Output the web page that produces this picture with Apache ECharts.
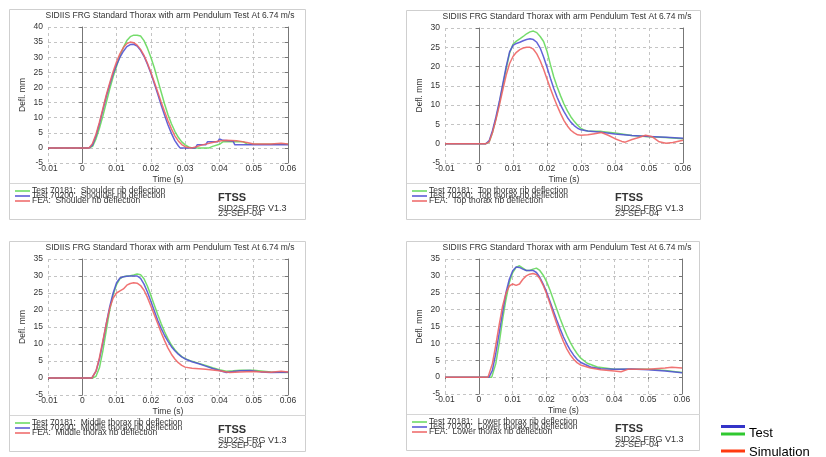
<!DOCTYPE html>
<html>
<head>
<meta charset="utf-8">
<script src="https://cdn.jsdelivr.net/npm/echarts@6/dist/echarts.min.js"></script>
<style>
  html, body { margin: 0; padding: 0; background: #fff; }
  #main { width: 826px; height: 457px; }
</style>
</head>
<body>
<div id="main"></div>
<script>
// axes
var timeMin = -0.01, timeMax = 0.06, timeStep = 0.01;
var deflRanges = [[-5, 40], [-5, 30], [-5, 35], [-5, 35]];
var deflStep = 5;

// texts
var panelTitle = 'SIDIIS FRG Standard Thorax with arm Pendulum Test At 6.74 m/s';
var ribNames = ['Shoulder rib deflection', 'Top thorax rib deflection', 'Middle thorax rib deflection', 'Lower thorax rib deflection'];
var runLabels = ['Test 70181:', 'Test 70200:', 'FEA:'];
var stampLines = ['FTSS', 'SID2S FRG V1.3', '23-SEP-04'];
var keyLabels = ['Test', 'Simulation'];

// shoulder rib (time s, deflection mm)
var shoulder70181 = [[-0.01,0],[0.002,0],[0.003,0.5],[0.004,3],[0.005,6.5],[0.006,10.5],[0.007,15],[0.008,19.5],[0.009,23.5],[0.010,27],[0.011,30.5],[0.012,33.3],[0.013,35.5],[0.014,36.8],[0.015,37.3],[0.016,37.3],[0.017,37],[0.018,35.5],[0.019,33],[0.020,30],[0.021,26.5],[0.022,22.5],[0.023,18.5],[0.024,14.5],[0.025,11],[0.026,8],[0.027,5.5],[0.028,3.5],[0.029,2],[0.030,1],[0.031,0.3],[0.032,0],[0.037,0],[0.038,0.5],[0.040,1.2],[0.041,2],[0.047,2],[0.048,1.3],[0.060,1.2]];
var shoulder70200 = [[-0.01,0],[0.002,0],[0.003,1],[0.004,4],[0.005,8],[0.006,12.5],[0.007,17],[0.008,21],[0.009,24.5],[0.010,27.5],[0.011,30],[0.012,32],[0.013,33.5],[0.014,34.2],[0.015,34.3],[0.016,33.7],[0.017,32.3],[0.018,30.3],[0.019,27.7],[0.020,24.7],[0.021,21.3],[0.022,17.8],[0.023,14.2],[0.024,10.8],[0.025,7.6],[0.026,4.8],[0.027,2.4],[0.028,0.7],[0.0285,0],[0.033,0],[0.0335,1],[0.036,1],[0.0365,2],[0.0395,2],[0.040,3],[0.041,2.5],[0.044,2.2],[0.0445,1],[0.060,1]];
var shoulderFEA = [[-0.01,0],[0.002,0],[0.003,1.5],[0.004,4.5],[0.005,8.5],[0.006,13],[0.007,17.5],[0.008,21.5],[0.009,25.3],[0.010,28.5],[0.011,31.2],[0.012,33.2],[0.013,34.5],[0.014,35],[0.015,34.8],[0.016,34],[0.017,32.6],[0.018,30.6],[0.019,28],[0.020,25],[0.021,21.8],[0.022,18.5],[0.023,15.2],[0.024,12],[0.025,9],[0.026,6.3],[0.027,4],[0.028,2.3],[0.029,1.1],[0.030,0.4],[0.031,0.1],[0.032,0],[0.033,0.3],[0.035,1],[0.038,1.8],[0.040,2.3],[0.042,2.5],[0.045,2.4],[0.048,1.8],[0.050,1.3],[0.055,1.3],[0.058,1.5],[0.060,1.3]];

// top thorax rib
var top70181 = [[-0.01,0],[0.002,0],[0.003,0.5],[0.004,3],[0.005,6.5],[0.006,10.5],[0.007,15],[0.008,19.5],[0.009,23.5],[0.010,25.8],[0.011,26.6],[0.012,27.2],[0.013,27.8],[0.014,28.5],[0.015,29],[0.016,29.2],[0.017,28.8],[0.018,27.8],[0.019,26.5],[0.020,24],[0.021,20.5],[0.022,17.3],[0.023,14.7],[0.024,12.4],[0.025,10.3],[0.026,8.5],[0.027,7],[0.028,5.8],[0.029,4.8],[0.030,4],[0.031,3.5],[0.032,3.3],[0.036,3.2],[0.040,2.8],[0.045,2.1],[0.050,1.8],[0.055,1.6],[0.060,1.3]];
var top70200 = [[-0.01,0],[0.002,0],[0.003,0.8],[0.004,3.5],[0.005,7],[0.006,11],[0.007,15.5],[0.008,20],[0.009,23.8],[0.010,25.5],[0.011,26],[0.012,26.3],[0.013,26.7],[0.014,27],[0.015,27.2],[0.016,27],[0.017,26.3],[0.018,24.8],[0.019,22.5],[0.020,19.8],[0.021,17],[0.022,14.3],[0.023,12],[0.024,10],[0.025,8.3],[0.026,6.8],[0.027,5.6],[0.028,4.7],[0.029,4],[0.030,3.6],[0.032,3.3],[0.036,3],[0.040,2.5],[0.045,2.1],[0.050,1.9],[0.055,1.7],[0.060,1.4]];
var topFEA = [[-0.01,0],[0.002,0],[0.003,0.5],[0.004,3],[0.005,6.3],[0.006,10],[0.007,14],[0.008,17.8],[0.009,20.8],[0.010,22.6],[0.011,23.7],[0.012,24.4],[0.013,24.8],[0.014,25],[0.015,25],[0.016,24.5],[0.017,23.3],[0.018,21.5],[0.019,19.3],[0.020,16.8],[0.021,14.3],[0.022,12],[0.023,9.8],[0.024,7.8],[0.025,6],[0.026,4.6],[0.027,3.5],[0.028,2.8],[0.029,2.3],[0.030,2.2],[0.032,2.3],[0.034,2.6],[0.036,2.9],[0.038,2.2],[0.040,1.3],[0.042,0.6],[0.043,0.4],[0.045,1.1],[0.047,1.6],[0.049,2.2],[0.051,1.8],[0.053,0.5],[0.055,0.1],[0.057,0.3],[0.060,0.9]];

// middle thorax rib
var middle70181 = [[-0.01,0],[0.003,0],[0.004,0.5],[0.005,3],[0.006,8],[0.007,14],[0.008,20],[0.009,24.5],[0.010,27.5],[0.011,29.2],[0.012,29.8],[0.013,30],[0.014,30.1],[0.015,30.3],[0.016,30.6],[0.017,30.4],[0.018,29.2],[0.019,27],[0.020,24.3],[0.021,21.5],[0.022,18.7],[0.023,16],[0.024,13.6],[0.025,11.5],[0.026,9.7],[0.027,8.3],[0.028,7.2],[0.029,6.3],[0.030,5.7],[0.032,4.9],[0.034,4.3],[0.036,3.7],[0.038,3],[0.040,2.4],[0.042,2],[0.044,2.1],[0.046,2.3],[0.050,2.3],[0.055,1.8],[0.060,1.6]];
var middle70200 = [[-0.01,0],[0.0028,0],[0.004,2],[0.005,5.5],[0.006,10.5],[0.007,16],[0.008,21],[0.009,25],[0.010,28],[0.011,29.4],[0.012,29.8],[0.013,29.9],[0.014,30],[0.015,30],[0.016,30],[0.017,29.3],[0.018,27.6],[0.019,25.3],[0.020,22.6],[0.021,19.8],[0.022,17],[0.023,14.6],[0.024,12.5],[0.025,10.8],[0.026,9.2],[0.027,8],[0.028,7],[0.029,6.2],[0.030,5.6],[0.032,4.8],[0.034,4.2],[0.036,3.5],[0.038,2.8],[0.040,2.2],[0.042,1.6],[0.044,1.9],[0.046,2.1],[0.049,2.2],[0.052,1.8],[0.055,1.6],[0.060,1.7]];
var middleFEA = [[-0.01,0],[0.0028,0],[0.004,2],[0.005,6],[0.006,11],[0.007,16],[0.008,20.5],[0.009,23.5],[0.010,25],[0.011,25.6],[0.012,26.2],[0.013,27.3],[0.014,27.8],[0.015,28],[0.016,27.9],[0.017,27.2],[0.018,25.8],[0.019,23.7],[0.020,21.2],[0.021,18.6],[0.022,16],[0.023,13.4],[0.024,11],[0.025,8.8],[0.026,7],[0.027,5.6],[0.028,4.5],[0.029,3.7],[0.030,3.2],[0.032,2.9],[0.036,2.6],[0.040,2.1],[0.043,1.6],[0.046,1.8],[0.050,1.9],[0.055,1.7],[0.058,2],[0.060,1.8]];

// lower thorax rib
var lower70181 = [[-0.01,0],[0.0038,0],[0.005,4],[0.006,10],[0.007,17],[0.008,23],[0.009,28],[0.010,31],[0.011,32.5],[0.012,33],[0.013,32.3],[0.014,31.6],[0.015,31.6],[0.016,32],[0.017,32.3],[0.018,31.6],[0.019,30.2],[0.020,28.3],[0.021,25.8],[0.022,23],[0.023,20.2],[0.024,17.4],[0.025,14.8],[0.026,12.4],[0.027,10.3],[0.028,8.5],[0.029,7],[0.030,5.7],[0.032,4.1],[0.035,3],[0.040,2.3],[0.045,2.3],[0.050,2.3],[0.055,2],[0.060,1.4]];
var lower70200 = [[-0.01,0],[0.003,0],[0.004,2],[0.005,7],[0.006,13],[0.007,19],[0.008,25],[0.009,29],[0.010,31.5],[0.011,32.6],[0.012,32.5],[0.013,32],[0.014,31.6],[0.015,31.6],[0.016,31.6],[0.017,31],[0.018,29.6],[0.019,27.6],[0.020,25.2],[0.021,22.5],[0.022,19.7],[0.023,16.9],[0.024,14.3],[0.025,11.9],[0.026,9.8],[0.027,8],[0.028,6.5],[0.029,5.3],[0.030,4.4],[0.033,3],[0.036,2.5],[0.040,2.3],[0.045,2.4],[0.050,2.2],[0.055,1.8],[0.060,1.3]];
var lowerFEA = [[-0.01,0],[0.0027,0],[0.004,4],[0.005,9.5],[0.006,15.5],[0.007,21],[0.008,24.8],[0.009,27],[0.010,27.6],[0.011,27.2],[0.012,27.6],[0.013,29],[0.014,30],[0.015,30.5],[0.016,30.7],[0.017,30.4],[0.018,29.2],[0.019,27.2],[0.020,24.7],[0.021,21.8],[0.022,18.8],[0.023,15.8],[0.024,13],[0.025,10.5],[0.026,8.3],[0.027,6.6],[0.028,5.3],[0.029,4.3],[0.030,3.6],[0.033,2.7],[0.036,2.2],[0.040,1.8],[0.042,1.6],[0.044,2.3],[0.050,2.3],[0.055,2.7],[0.057,2.9],[0.060,2.7]];

var panelData = [
  [shoulder70181, shoulder70200, shoulderFEA],
  [top70181, top70200, topFEA],
  [middle70181, middle70200, middleFEA],
  [lower70181, lower70200, lowerFEA]
];

var runColors = ['#66d85c', '#5252d4', '#ee6464'];
var keyColors = ['#3434c8', '#30c830', '#ff3a10'];
var FONT = '"Liberation Sans", Arial, sans-serif';

// plot boxes (px)
var grids = [
  {left: 48, top: 27, width: 240, height: 136},
  {left: 445, top: 28, width: 238, height: 135},
  {left: 48, top: 259, width: 240, height: 136},
  {left: 445, top: 259, width: 237, height: 135}
];

var xAxes = [], yAxes = [], series = [], graphics = [];

grids.forEach(function (g, i) {
  var bottom = g.top + g.height;
  xAxes.push({
    type: 'value', gridIndex: i, min: timeMin, max: timeMax, interval: timeStep,
    name: 'Time (s)', nameLocation: 'middle', nameGap: 12,
    nameTextStyle: {fontSize: 8.5, color: '#333', fontFamily: FONT},
    axisLine: {show: false},
    axisTick: {show: true, length: 2, lineStyle: {color: '#777'}},
    axisLabel: {margin: 1, fontSize: 8.5, color: '#333', fontFamily: FONT,
      formatter: function (v) { return v === 0 ? '0' : String(Math.round(v * 100) / 100); }},
    splitLine: {show: true, lineStyle: {color: '#c4c4c4', type: [3, 3]}}
  });
  yAxes.push({
    type: 'value', gridIndex: i, min: deflRanges[i][0], max: deflRanges[i][1], interval: deflStep,
    name: 'Defl. mm', nameLocation: 'middle', nameGap: 21,
    nameTextStyle: {fontSize: 8.5, color: '#333', fontFamily: FONT},
    axisLine: {show: true, lineStyle: {color: '#777'}},
    axisTick: {show: true, length: 3, lineStyle: {color: '#777'}},
    axisLabel: {margin: 5, fontSize: 8.5, color: '#333', fontFamily: FONT},
    splitLine: {show: true, lineStyle: {color: '#c4c4c4', type: [3, 3]}}
  });
  yAxes.push({
    type: 'value', gridIndex: i, position: 'right', min: deflRanges[i][0], max: deflRanges[i][1], interval: deflStep,
    axisLine: {show: true, lineStyle: {color: '#777'}},
    axisTick: {show: true, inside: true, length: 3, lineStyle: {color: '#777'}},
    axisLabel: {show: false}, splitLine: {show: false}
  });

  panelData[i].forEach(function (d, k) {
    series.push({
      type: 'line', name: runLabels[k] + '  ' + ribNames[i],
      xAxisIndex: i, yAxisIndex: i * 2, data: d,
      showSymbol: false, silent: true,
      lineStyle: {color: runColors[k], width: 1.5, opacity: 0.9}
    });
  });

  // frame and separator
  graphics.push({type: 'rect', shape: {x: g.left - 38.5, y: g.top - 17.5, width: g.width + 56, height: g.height + 74},
    style: {fill: 'none', stroke: '#cfcfcf', lineWidth: 1}, silent: true});
  graphics.push({type: 'line', shape: {x1: g.left - 38, y1: bottom + 20.5, x2: g.left + g.width + 18, y2: bottom + 20.5},
    style: {stroke: '#d6d6d6', lineWidth: 1}, silent: true});
  // title
  graphics.push({type: 'text', x: g.left + 122, y: g.top - 11,
    style: {text: panelTitle, font: '8.5px ' + FONT, fill: '#333', align: 'center', verticalAlign: 'middle'}});
  // legend
  [28, 33, 38].forEach(function (dy, k) {
    graphics.push({type: 'line', shape: {x1: g.left - 33, y1: bottom + dy, x2: g.left - 18, y2: bottom + dy},
      style: {stroke: runColors[k], lineWidth: 1.5}, silent: true});
    graphics.push({type: 'text', x: g.left - 16, y: bottom + dy,
      style: {text: runLabels[k] + '  ' + ribNames[i], font: '8.5px ' + FONT, fill: '#333', verticalAlign: 'middle'}});
  });
  // stamp
  graphics.push({type: 'text', x: g.left + 170, y: bottom + 35,
    style: {text: stampLines[0], font: 'bold 11px ' + FONT, fill: '#333', verticalAlign: 'middle'}});
  graphics.push({type: 'text', x: g.left + 170, y: bottom + 46,
    style: {text: stampLines[1], font: '9px ' + FONT, fill: '#333', verticalAlign: 'middle'}});
  graphics.push({type: 'text', x: g.left + 170, y: bottom + 51,
    style: {text: stampLines[2], font: '9px ' + FONT, fill: '#333', verticalAlign: 'middle'}});
});

// overall key, bottom right
[[426.5, 0], [434, 1], [451, 2]].forEach(function (r) {
  graphics.push({type: 'line', shape: {x1: 721, y1: r[0], x2: 745, y2: r[0]},
    style: {stroke: keyColors[r[1]], lineWidth: 3}, silent: true});
});
graphics.push({type: 'text', x: 749, y: 433,
  style: {text: keyLabels[0], font: '13px ' + FONT, fill: '#000', verticalAlign: 'middle'}});
graphics.push({type: 'text', x: 749, y: 452,
  style: {text: keyLabels[1], font: '13px ' + FONT, fill: '#000', verticalAlign: 'middle'}});

var chart = echarts.init(document.getElementById('main'));
chart.setOption({
  animation: false,
  backgroundColor: '#fff',
  grid: grids.map(function (g) { return {left: g.left, top: g.top, width: g.width, height: g.height, containLabel: false}; }),
  xAxis: xAxes,
  yAxis: yAxes,
  series: series,
  graphic: graphics
});
</script>
</body>
</html>
